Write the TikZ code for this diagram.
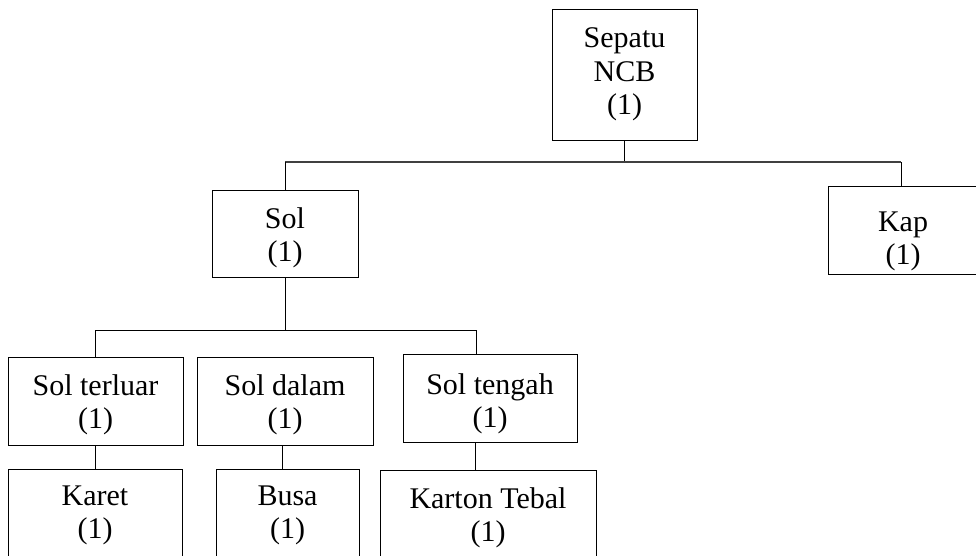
\documentclass[tikz,border=0pt]{standalone}
\usepackage{fontspec}
\setmainfont{Liberation Serif}
\usetikzlibrary{calc}
\newcommand\topgap[1]{\rule{0pt}{#1pt}}
\begin{document}
\begin{tikzpicture}[x=1pt,y=-1pt,
  box/.style={draw, line width=0.9pt, rectangle, inner sep=0pt, align=center,
    font=\fontsize{30}{33.3}\selectfont},
  conn/.style={line width=0.9pt},
  bus/.style={line width=1.2pt, draw=black!75}]
\clip (0,0) rectangle (976,555);
\fill[white] (0,0) rectangle (976,555);
% level 0
\node[box, minimum width=145, minimum height=131] (sep) at (624.5,74.5) {Sepatu\\NCB\\(1)};
% level 1
\node[box, minimum width=146, minimum height=87] (sol) at (285,233.5) {\topgap{29.5}Sol\\(1)};
\node[box, minimum width=150, minimum height=88] (kap) at (903,230) {\topgap{43}Kap\\(1)};
% level 2
\node[box, minimum width=175, minimum height=88] (terluar) at (95.5,401) {\topgap{27.7}Sol terluar\\(1)};
\node[box, minimum width=176, minimum height=88] (dalam) at (285,401) {\topgap{27.7}Sol dalam\\(1)};
\node[box, minimum width=174, minimum height=88] (tengah) at (490,398) {\topgap{31.7}Sol tengah\\(1)};
% level 3
\node[box, minimum width=174, minimum height=88] (karet) at (95,513) {\topgap{23.7}Karet\\(1)};
\node[box, minimum width=143, minimum height=88] (busa) at (287.5,513) {\topgap{23.7}Busa\\(1)};
\node[box, minimum width=216, minimum height=88] (karton) at (488,514) {\topgap{27.7}Karton Tebal\\(1)};
% buses
\coordinate (bus1) at (0,162);
\coordinate (bus2) at (0,330);
\coordinate (kapstem) at ($(kap.north)+(-2,0)$);
\coordinate (tengstem) at ($(tengah.north)+(-14,0)$);
% connectors level 0 -> 1
\draw[conn] (sep.south) -- (sep.south |- bus1);
\draw[bus] (sol.north |- bus1) -- (kapstem |- bus1);
\draw[conn] (sol.north |- bus1) -- (sol.north);
\draw[conn] (kapstem |- bus1) -- (kapstem);
% connectors level 1 -> 2
\draw[conn] (sol.south) -- (sol.south |- bus2);
\draw[conn] (terluar.north |- bus2) -- (tengstem |- bus2);
\draw[conn] (terluar.north |- bus2) -- (terluar.north);
\draw[conn] (tengstem |- bus2) -- (tengstem);
% connectors level 2 -> 3
\draw[conn] (terluar.south) -- (terluar.south |- karet.north);
\draw[conn] ([xshift=-3pt]dalam.south) -- ([xshift=-3pt]dalam.south |- busa.north);
\draw[conn] ([xshift=-15pt]tengah.south) -- ([xshift=-15pt]tengah.south |- karton.north);
\end{tikzpicture}
\end{document}
